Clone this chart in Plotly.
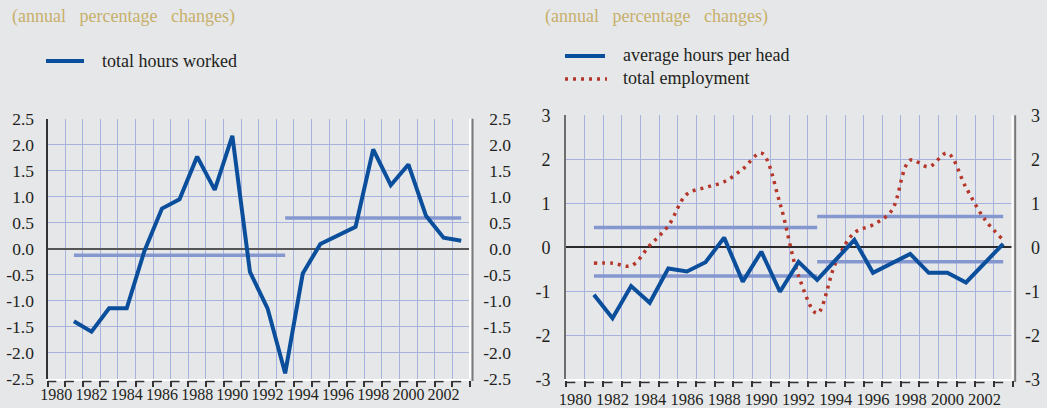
import plotly.graph_objects as go

# ---- data -------------------------------------------------------------
years = list(range(1981, 2004))

total_hours_worked = [-1.40, -1.60, -1.15, -1.15, -0.05, 0.77, 0.95, 1.77, 1.13, 2.17,
                      -0.45, -1.15, -2.40, -0.48, 0.09, 0.25, 0.42, 1.91, 1.22, 1.62,
                      0.63, 0.21, 0.15]

avg_hours_per_head = [-1.08, -1.61, -0.88, -1.26, -0.48, -0.55, -0.34, 0.22, -0.78, -0.10,
                      -1.01, -0.33, -0.74, -0.27, 0.17, -0.58, -0.36, -0.15, -0.58, -0.58,
                      -0.80, -0.36, 0.08]

total_employment = [-0.36, -0.36, -0.42, 0.04, 0.49, 1.21, 1.36, 1.49, 1.78, 2.14,
                    1.00, -0.65, -1.50, -0.35, 0.33, 0.51, 0.83, 1.98, 1.83, 2.14,
                    1.36, 0.64, 0.17]

# sub-period averages
periods = [(1981, 1993), (1993, 2003)]
total_hours_avg = [-0.13, 0.59]
hours_per_head_avg = [-0.65, -0.33]
employment_avg = [0.45, 0.70]

# axis labels
x_label_years = list(range(1980, 2003, 2))
x_labels = [str(y) for y in x_label_years]
left_y_vals = [-2.5, -2.0, -1.5, -1.0, -0.5, 0.0, 0.5, 1.0, 1.5, 2.0, 2.5]
left_y_text = ["-2.5", "-2.0", "-1.5", "-1.0", "-0.5", "0.0", "0.5", "1.0", "1.5", "2.0", "2.5"]
right_y_vals = [-3, -2, -1, 0, 1, 2, 3]
right_y_text = ["-3", "-2", "-1", "0", "1", "2", "3"]

# ---- styling ----------------------------------------------------------
W, H = 1047, 408
BG = "#e6e7e9"
BLUE = "#0b4f9c"
AVG = "#8597cf"
GRID = "#a7b2dd"
RED = "#b5372b"
GOLD = "#c6b06a"
TXT = "#231f20"
FONT = "Liberation Serif"
DOTS = "3px,5px"


def px(x):
    return x / W


def py(y):
    return 1 - y / H


boundaries = [y - 0.5 for y in range(1980, 2005)]

fig = go.Figure()

# left panel: averages then the series
for (x0, x1), v in zip(periods, total_hours_avg):
    fig.add_trace(go.Scatter(x=[x0, x1], y=[v, v], mode="lines",
                             line=dict(color=AVG, width=3.5), xaxis="x", yaxis="y",
                             showlegend=False, hoverinfo="skip"))
fig.add_trace(go.Scatter(x=years, y=total_hours_worked, mode="lines",
                         line=dict(color=BLUE, width=4), xaxis="x", yaxis="y",
                         showlegend=False))
fig.add_trace(go.Scatter(x=[years[0]], y=[None], xaxis="x", yaxis="y3",
                         showlegend=False, hoverinfo="skip"))

# right panel
for (x0, x1), v in zip(periods, employment_avg):
    fig.add_trace(go.Scatter(x=[x0, x1], y=[v, v], mode="lines",
                             line=dict(color=AVG, width=3.5), xaxis="x2", yaxis="y2",
                             showlegend=False, hoverinfo="skip"))
for (x0, x1), v in zip(periods, hours_per_head_avg):
    fig.add_trace(go.Scatter(x=[x0, x1], y=[v, v], mode="lines",
                             line=dict(color=AVG, width=3.5), xaxis="x2", yaxis="y2",
                             showlegend=False, hoverinfo="skip"))
fig.add_trace(go.Scatter(x=years, y=total_employment, mode="lines",
                         line=dict(color=RED, width=3.5, dash=DOTS, shape="spline"),
                         xaxis="x2", yaxis="y2", showlegend=False))
fig.add_trace(go.Scatter(x=years, y=avg_hours_per_head, mode="lines",
                         line=dict(color=BLUE, width=4), xaxis="x2", yaxis="y2",
                         showlegend=False))
fig.add_trace(go.Scatter(x=[years[0]], y=[None], xaxis="x2", yaxis="y4",
                         showlegend=False, hoverinfo="skip"))


def x_axis(domain, anchor, size, standoff):
    return dict(domain=domain, anchor=anchor, range=[1979.5, 2003.5],
                tickvals=x_label_years, ticktext=x_labels, ticks="",
                showgrid=False, zeroline=False, automargin=False,
                showline=True, linecolor="white", linewidth=2,
                tickfont=dict(family=FONT, size=size, color=TXT),
                ticklabelstandoff=standoff,
                minor=dict(tickvals=boundaries, showgrid=True, gridcolor=GRID,
                           gridwidth=1.3, ticks="outside", ticklen=6,
                           tickcolor="#333333", tickwidth=1.5))


def y_axis(domain, anchor, rng, vals, text, size, standoff, linecolor, zcolor):
    return dict(domain=domain, anchor=anchor, range=rng, tickvals=vals,
                ticktext=text, ticks="", showgrid=True, gridcolor=GRID,
                gridwidth=1.3, zeroline=True, zerolinecolor=zcolor,
                zerolinewidth=1.6, showline=True, linecolor=linecolor,
                linewidth=2, ticklabelstandoff=standoff, automargin=False,
                tickfont=dict(family=FONT, size=size, color=TXT))


def y_mirror(over, rng, vals, text, size, pos):
    return dict(overlaying=over, anchor="free", position=pos, side="left",
                range=rng, tickvals=vals, ticktext=text, ticks="",
                showgrid=False, zeroline=False, showline=False, automargin=False,
                tickfont=dict(family=FONT, size=size, color=TXT))


L_dom_x = [px(47.5), px(470)]
L_dom_y = [py(378.5), py(118.7)]
R_dom_x = [px(566), px(1012.5)]
R_dom_y = [py(379.3), py(115.3)]

fig.update_layout(
    width=W, height=H, margin=dict(l=0, r=0, t=0, b=0, autoexpand=False),
    paper_bgcolor=BG, plot_bgcolor=BG, showlegend=False,
    xaxis=x_axis(L_dom_x, "y", 16, 0),
    yaxis=y_axis(L_dom_y, "x", [-2.5, 2.5], left_y_vals, left_y_text, 17.5, 8,
                 "#333333", "#555555"),
    yaxis3=y_mirror("y", [-2.5, 2.5], left_y_vals, left_y_text, 17.5, px(511)),
    xaxis2=x_axis(R_dom_x, "y2", 16.5, 4),
    yaxis2=y_axis(R_dom_y, "x2", [-3, 3], right_y_vals, right_y_text, 18, 10,
                  "#6e6e6e", "#2a2a2a"),
    yaxis4=y_mirror("y2", [-3, 3], right_y_vals, right_y_text, 18, px(1040)),
)

shapes = []
for xa, ya in (("x", "y"), ("x2", "y2")):
    # white bevel on the right edge and grey outer frame line
    shapes.append(dict(type="line", xref=f"{xa} domain", yref=f"{ya} domain",
                       x0=1, x1=1, y0=0, y1=1, line=dict(color="white", width=2),
                       layer="above"))
    shapes.append(dict(type="line", xref=f"{xa} domain", yref=f"{ya} domain",
                       x0=1.006, x1=1.006, y0=-0.01, y1=1.0,
                       line=dict(color="#7a7a7a", width=2), layer="above"))
    # short horizontal strokes forming the bottom tick brackets
    for b in boundaries[:-1]:
        shapes.append(dict(type="line", xref=xa, yref=f"{ya} domain",
                           x0=b, x1=b + 0.5, y0=-0.012, y1=-0.012,
                           line=dict(color="#333333", width=1.5), layer="above"))

# legend keys
shapes.append(dict(type="line", xref="paper", yref="paper", x0=px(46), x1=px(84),
                   y0=py(61), y1=py(61), line=dict(color=BLUE, width=4)))
shapes.append(dict(type="line", xref="paper", yref="paper", x0=px(565), x1=px(605),
                   y0=py(56), y1=py(56), line=dict(color=BLUE, width=4)))
shapes.append(dict(type="line", xref="paper", yref="paper", x0=px(565), x1=px(607),
                   y0=py(79), y1=py(79), line=dict(color=RED, width=3.5, dash=DOTS)))
fig.update_layout(shapes=shapes)

sp = "\u00a0\u00a0\u00a0"
subtitle = f"(annual{sp}percentage{sp}changes)"
annotations = [
    dict(text=subtitle, x=px(10), y=py(17), font=dict(family=FONT, size=18, color=GOLD)),
    dict(text=subtitle, x=px(542.5), y=py(17), font=dict(family=FONT, size=18, color=GOLD)),
    dict(text="total hours worked", x=px(100), y=py(61), font=dict(family=FONT, size=18, color=TXT)),
    dict(text="average hours per head", x=px(620.5), y=py(55), font=dict(family=FONT, size=18, color=TXT)),
    dict(text="total employment", x=px(620.5), y=py(78), font=dict(family=FONT, size=18, color=TXT)),
]
for a in annotations:
    a.update(xref="paper", yref="paper", xanchor="left", yanchor="middle",
             showarrow=False)
fig.update_layout(annotations=annotations)

fig.write_html("out.html")
